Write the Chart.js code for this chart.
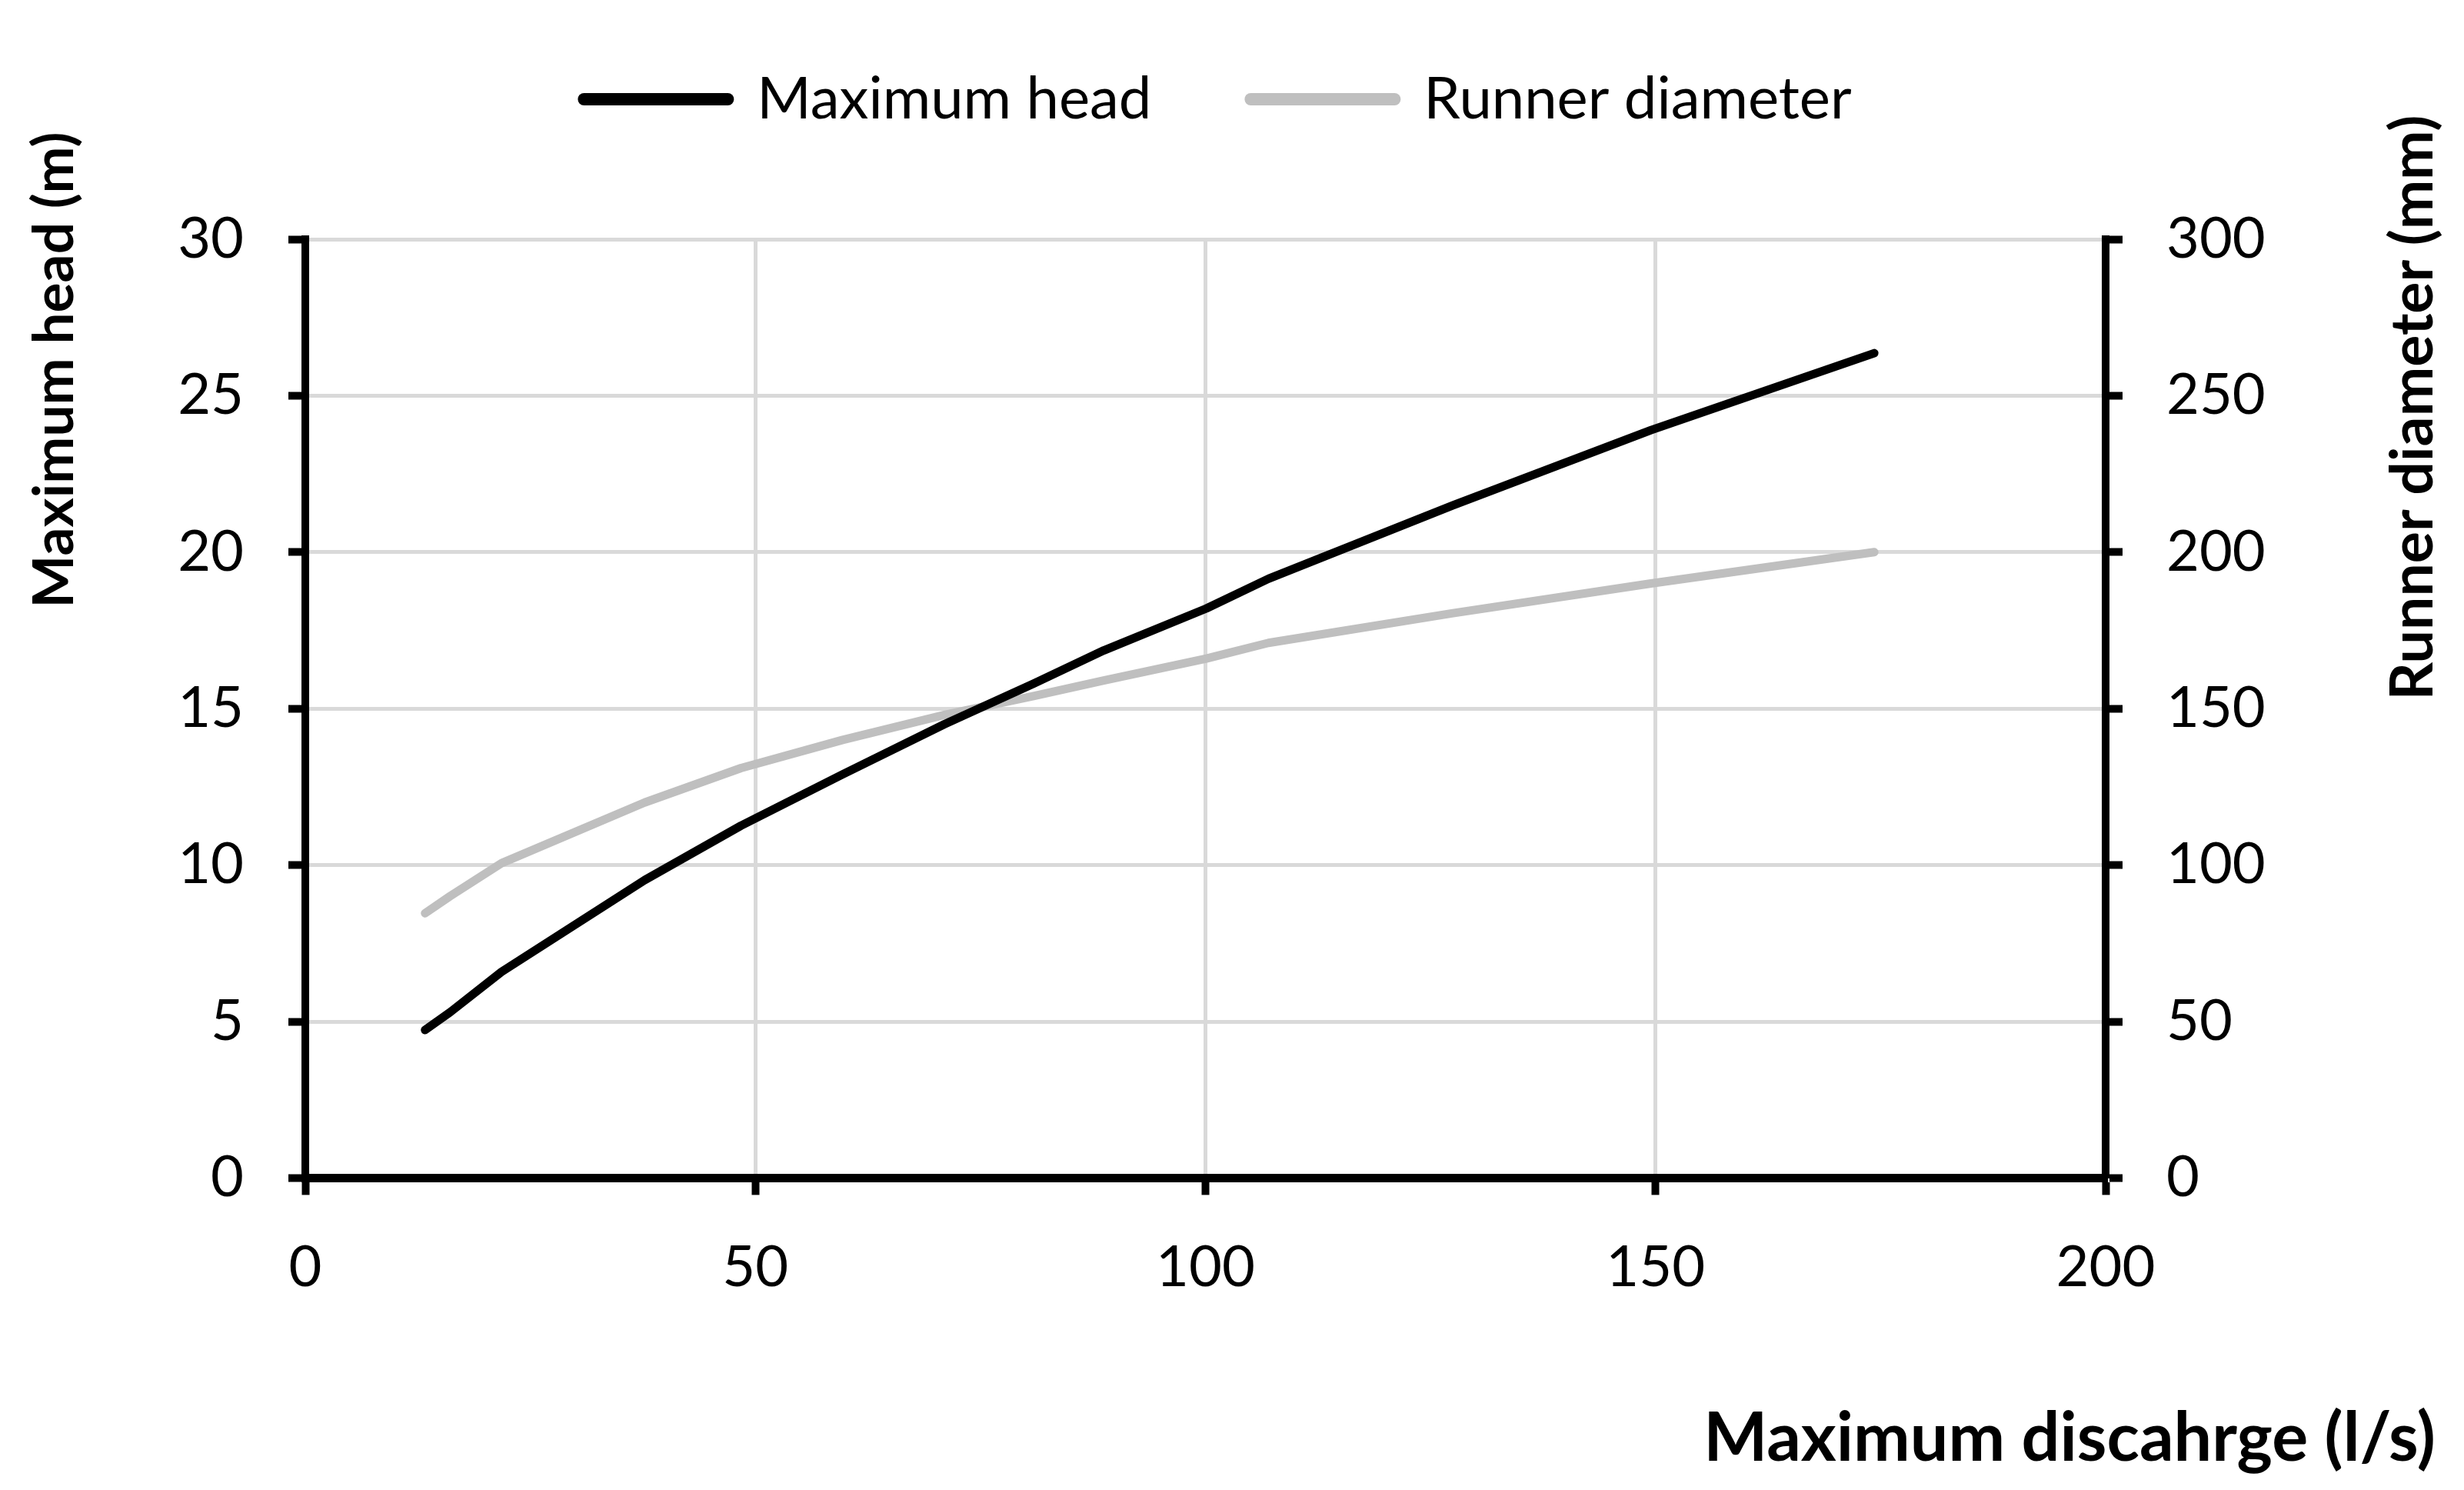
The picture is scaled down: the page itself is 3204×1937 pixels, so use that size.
<!DOCTYPE html>
<html>
<head>
<meta charset="utf-8">
<script src="https://cdn.jsdelivr.net/npm/chart.js@4.4.1/dist/chart.umd.min.js"></script>
<style>
  html, body { margin: 0; padding: 0; background: #fff; }
  #wrap { width: 3204px; height: 1937px; }
</style>
</head>
<body>
<div id="wrap"><canvas id="grafico"></canvas></div>
<script>
// valores
var discharge = [13.3, 16.1, 21.8, 37.7, 48.4, 59.7, 71.0, 80.9, 88.7, 100.1, 107.0, 127.5, 149.5, 174.3]
var maxHead = [4.73, 5.30, 6.59, 9.52, 11.26, 12.9, 14.5, 15.8, 16.86, 18.2, 19.15, 21.5, 23.9, 26.36]
var runnerDiameter = [84.6, 90.1, 100.6, 120, 131, 140, 148, 154, 159, 166, 171, 180.5, 190, 200]

var xTitle = 'Maximum discahrge (l/s)'
var yLeftTitle = 'Maximum head (m)'
var yRightTitle = 'Runner diameter (mm)'

var fonte = 'Lato'
var cinzaGrade = '#d9d9d9'

function pontos(xs, ys) {
    var lista = []
    for (var i = 0; i < xs.length; i++) {
        lista.push({x: xs[i], y: ys[i]})
    }
    return lista
}

//espaco entre a legenda e o grafico
var legendaMargem = {
    id: 'legendaMargem',
    beforeInit: function(chart) {
        var fitOriginal = chart.legend.fit
        chart.legend.fit = function() {
            fitOriginal.bind(chart.legend)()
            this.height += 134
        }
    }
}

//titulos dos eixos verticais
var titulosY = {
    id: 'titulosY',
    afterDraw: function(chart) {
        var ctx = chart.ctx
        ctx.save()
        ctx.fillStyle = '#000'
        ctx.textAlign = 'center'
        ctx.textBaseline = 'alphabetic'

        ctx.save()
        ctx.font = 'bold 73px ' + fonte
        ctx.translate(95, 481)
        ctx.rotate(-Math.PI / 2)
        ctx.fillText(yLeftTitle, 0, 0)
        ctx.restore()

        ctx.save()
        ctx.font = 'bold 77px ' + fonte
        ctx.translate(3163, 530)
        ctx.rotate(-Math.PI / 2)
        ctx.fillText(yRightTitle, 0, 0)
        ctx.restore()

        ctx.restore()
    }
}

var ctx = document.getElementById('grafico')
var chart = new Chart(ctx, {
    type: 'line',
    data: {
        datasets: [{
            label: 'Maximum head',
            data: pontos(discharge, maxHead),
            yAxisID: 'y',
            borderColor: '#000000',
            backgroundColor: '#000000',
            borderWidth: 11,
            borderCapStyle: 'round',
            borderJoinStyle: 'round',
            pointRadius: 0,
            tension: 0,
            fill: false
        }, {
            label: 'Runner diameter',
            data: pontos(discharge, runnerDiameter),
            yAxisID: 'y1',
            borderColor: '#bfbfbf',
            backgroundColor: '#bfbfbf',
            borderWidth: 11,
            borderCapStyle: 'round',
            borderJoinStyle: 'round',
            pointRadius: 0,
            tension: 0,
            fill: false
        }]
    },
    options: {
        responsive: true,
        maintainAspectRatio: false,
        animation: false,
        events: [],
        layout: {
            padding: {top: -38, right: 37, bottom: 0, left: 0}
        },
        plugins: {
            tooltip: {enabled: false},
            legend: {
                position: 'top',
                labels: {
                    color: '#000',
                    font: {family: fonte, size: 76},
                    usePointStyle: true,
                    pointStyle: 'line',
                    pointStyleWidth: 187,
                    padding: 129,
                    generateLabels: function(chart) {
                        var itens = Chart.defaults.plugins.legend.labels.generateLabels(chart)
                        for (var item of itens) {
                            item.lineWidth = 16
                            item.lineCap = 'round'
                        }
                        return itens
                    }
                }
            },
            title: {
                display: true,
                text: xTitle,
                position: 'bottom',
                align: 'end',
                color: '#000',
                font: {family: fonte, size: 88, weight: 'bold'},
                padding: {top: 10, bottom: 14}
            }
        },
        scales: {
            x: {
                type: 'linear',
                min: 0,
                max: 200,
                ticks: {
                    stepSize: 50,
                    color: '#000',
                    font: {family: fonte, size: 74},
                    padding: 50,
                    maxRotation: 0
                },
                grid: {
                    color: cinzaGrade,
                    lineWidth: 5,
                    tickColor: '#000',
                    tickWidth: 10,
                    tickLength: 22
                },
                border: {color: '#000', width: 11},
                afterFit: function(scale) { scale.height = 276 }
            },
            y: {
                position: 'left',
                min: 0,
                max: 30,
                ticks: {
                    stepSize: 5,
                    color: '#000',
                    font: {family: fonte, size: 74},
                    padding: 58
                },
                grid: {
                    color: cinzaGrade,
                    lineWidth: 5,
                    tickColor: '#000',
                    tickWidth: 10,
                    tickLength: 22
                },
                border: {color: '#000', width: 10},
                afterFit: function(scale) { scale.width = 397 }
            },
            y1: {
                position: 'right',
                min: 0,
                max: 300,
                ticks: {
                    stepSize: 50,
                    color: '#000',
                    font: {family: fonte, size: 74},
                    padding: 57
                },
                grid: {
                    drawOnChartArea: false,
                    tickColor: '#000',
                    tickWidth: 10,
                    tickLength: 22
                },
                border: {color: '#000', width: 10},
                afterFit: function(scale) { scale.width = 429 }
            }
        }
    },
    plugins: [legendaMargem, titulosY]
})
</script>
</body>
</html>
